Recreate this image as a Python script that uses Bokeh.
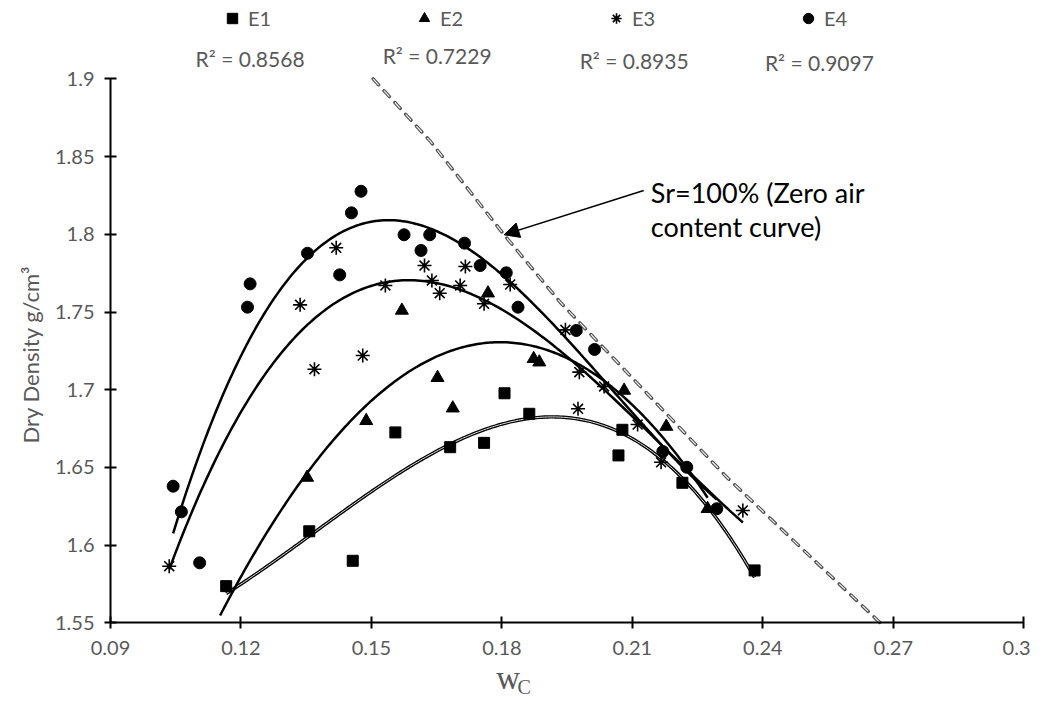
import numpy as np
from math import pi
from bokeh.plotting import figure
from bokeh.models import (Label, Arrow, NormalHead, FixedTicker, Range1d, Legend, LegendItem,
                          LinearAxis)
from bokeh.embed import file_html
from bokeh.resources import INLINE

# ---------------- data ----------------
series_names = ["E1", "E2", "E3", "E4"]

e1_w = [0.1166, 0.1357, 0.1457, 0.1555, 0.1681, 0.1759, 0.1806, 0.1863, 0.2068, 0.2077, 0.2215, 0.2381]
e1_rho = [1.5736, 1.6089, 1.5899, 1.6725, 1.6630, 1.6658, 1.6977, 1.6845, 1.6577, 1.6742, 1.6401, 1.5837]

e2_w = [0.1352, 0.1488, 0.1570, 0.1652, 0.1687, 0.1768, 0.1873, 0.1886, 0.2081, 0.2178, 0.2273]
e2_rho = [1.6435, 1.6800, 1.7510, 1.7077, 1.6881, 1.7621, 1.7199, 1.7177, 1.6995, 1.6763, 1.6234]

e3_w = [0.1035, 0.1336, 0.1369, 0.1419, 0.1480, 0.1532, 0.1622, 0.1639, 0.1657, 0.1704, 0.1716,
        0.1759, 0.1819, 0.1946, 0.1978, 0.1975, 0.2035, 0.2112, 0.2166, 0.2354]
e3_rho = [1.5864, 1.7546, 1.7132, 1.7913, 1.7220, 1.7671, 1.7799, 1.7703, 1.7621, 1.7671, 1.7793,
          1.7553, 1.7677, 1.7385, 1.7113, 1.6877, 1.7021, 1.6776, 1.6533, 1.6223]

e4_w = [0.1044, 0.1063, 0.1105, 0.1215, 0.1221, 0.1353, 0.1427, 0.1454, 0.1476, 0.1575, 0.1614,
        0.1634, 0.1714, 0.1750, 0.1810, 0.1837, 0.1971, 0.2013, 0.2170, 0.2225, 0.2294]
e4_rho = [1.6379, 1.6214, 1.5886, 1.7531, 1.7681, 1.7878, 1.7739, 1.8138, 1.8277, 1.7997, 1.7896,
          1.7997, 1.7943, 1.7799, 1.7752, 1.7531, 1.7381, 1.7259, 1.6602, 1.6501, 1.6234]

# backward forecast of each polynomial trendline (E2's trendline is extended back)
backward_forecast = [0.0, 0.02, 0.0, 0.0]

r2_labels = ["R\u00b2 = 0.8568", "R\u00b2 = 0.7229", "R\u00b2 = 0.8935", "R\u00b2 = 0.9097"]

# zero air content curve (Sr = 100%)
zav_w = [0.1504, 0.1635, 0.1805, 0.1934, 0.2317, 0.2539, 0.2670]
zav_rho = [1.9000, 1.8600, 1.7997, 1.7563, 1.6437, 1.5847, 1.5500]

x_ticks = [0.09, 0.12, 0.15, 0.18, 0.21, 0.24, 0.27, 0.3]
x_tick_labels = ["0.09", "0.12", "0.15", "0.18", "0.21", "0.24", "0.27", "0.3"]
y_ticks = [1.55, 1.6, 1.65, 1.7, 1.75, 1.8, 1.85, 1.9]
y_tick_labels = ["1.55", "1.6", "1.65", "1.7", "1.75", "1.8", "1.85", "1.9"]

annotation_lines = ["Sr=100% (Zero air", "content curve)"]
y_title = "Dry Density g/cm\u00b3"

# ---------------- figure ----------------
W, H = 1030, 701
X0, X1 = 0.09, 0.30
Y0, Y1 = 1.55, 1.90
PX_X = 4349.0   # px per unit w
PX_Y = 1554.0   # px per unit density
LEFT, TOP = 110.0, 78.4
x_range = Range1d(X0 - LEFT / PX_X, X0 + (W - LEFT) / PX_X)
y_range = Range1d(Y1 - (H - TOP) / PX_Y, Y1 + TOP / PX_Y)

p = figure(width=W, height=H, x_range=x_range, y_range=y_range,
           output_backend="svg", toolbar_location=None,
           x_axis_location=None, y_axis_location=None,
           min_border_left=0, min_border_right=0, min_border_top=0, min_border_bottom=0)
p.xgrid.grid_line_color = None
p.ygrid.grid_line_color = None
p.outline_line_color = None
p.background_fill_color = "white"
p.border_fill_color = "white"

xaxis = LinearAxis(fixed_location=Y0, bounds=(X0, X1), ticker=FixedTicker(ticks=x_ticks),
                   major_label_overrides=dict(zip(x_ticks, x_tick_labels)), major_label_standoff=12)
yaxis = LinearAxis(fixed_location=X0, bounds=(Y0, Y1), ticker=FixedTicker(ticks=y_ticks),
                   major_label_overrides=dict(zip(y_ticks, y_tick_labels)), major_label_standoff=10)
for ax in (xaxis, yaxis):
    ax.axis_line_color = "black"
    ax.axis_line_width = 2
    ax.major_tick_line_color = "black"
    ax.major_tick_line_width = 2
    ax.major_tick_in = 6
    ax.major_tick_out = 6
    ax.minor_tick_line_color = None
    ax.major_label_text_font = "Lato"
    ax.major_label_text_font_size = "20px"
    ax.major_label_text_color = "#595959"
p.add_layout(xaxis, "below")
p.add_layout(yaxis, "left")

# zero air content curve (dashed, hollow dashes)
p.line(zav_w, zav_rho, line_color="#505050", line_width=3.4, line_dash="8 8", line_cap="round")
p.line(zav_w, zav_rho, line_color="#f2f2f2", line_width=1.2, line_dash="8 8")

# polynomial trend lines (order 3), fitted from the series
def trend(w, rho, back=0.0, deg=3):
    w = np.asarray(w); rho = np.asarray(rho)
    c = np.polyfit(w, rho, deg)
    xs = np.linspace(w.min() - back, w.max(), 200)
    return xs, np.polyval(c, xs)

series = [(e1_w, e1_rho), (e2_w, e2_rho), (e3_w, e3_rho), (e4_w, e4_rho)]
for i, ((w, r), back) in enumerate(zip(series, backward_forecast)):
    xs, ys = trend(w, r, back)
    if i == 0:
        p.line(xs, ys, line_color="black", line_width=3.4)
        p.line(xs, ys, line_color="#dcdcdc", line_width=1.0)
    else:
        p.line(xs, ys, line_color="black", line_width=2.5)

r1_ = p.scatter(e1_w, e1_rho, marker="square", size=11, color="black")
r2_ = p.scatter(e2_w, e2_rho, marker="triangle", size=13, color="black")
r3_ = p.scatter(e3_w, e3_rho, marker="asterisk", size=14, line_color="black", line_width=1.6)
r4_ = p.scatter(e4_w, e4_rho, marker="circle", size=12, color="black")

legend = Legend(items=[LegendItem(label=n, renderers=[r]) for n, r in zip(series_names, [r1_, r2_, r3_, r4_])],
                orientation="horizontal", location=(219, 670), glyph_width=26, glyph_height=26,
                label_standoff=3, label_width=163, spacing=0, padding=0, margin=0,
                border_line_color=None, background_fill_alpha=0,
                label_text_font="Lato", label_text_font_size="20px", label_text_color="#595959")
p.add_layout(legend)

# R² labels
r2_pos_x = [0.1221, 0.1651, 0.2104, 0.2530]
r2_pos_y = [1.9131, 1.9151, 1.9118, 1.9106]
for t, x, y in zip(r2_labels, r2_pos_x, r2_pos_y):
    p.add_layout(Label(x=x, y=y, text=t, text_align="center", text_baseline="middle",
                       text_font="Lato", text_font_size="21px", text_color="#595959"))

# annotation + arrow
p.add_layout(Arrow(end=NormalHead(size=15, fill_color="black", line_color="black"),
                   x_start=0.2126, y_start=1.8282, x_end=0.1805, y_end=1.7997,
                   line_color="black", line_width=1.5))
p.add_layout(Label(x=0.21425, y=1.8272, text=annotation_lines[0], text_baseline="alphabetic",
                   text_font="Lato", text_font_size="27px", text_color="black"))
p.add_layout(Label(x=0.21425, y=1.8050, text=annotation_lines[1], text_baseline="alphabetic",
                   text_font="Lato", text_font_size="27px", text_color="black"))

# axis titles
p.add_layout(Label(x=0.0716, y=1.7227, text=y_title, angle=pi / 2, text_align="center",
                   text_baseline="middle", text_font="Lato", text_font_size="22px", text_color="#595959"))
p.add_layout(Label(x=0.1787, y=1.5142, text="w", text_baseline="alphabetic",
                   text_font="Liberation Serif", text_font_size="33px", text_color="#595959"))
p.add_layout(Label(x=0.1836, y=1.5085, text="C", text_baseline="alphabetic",
                   text_font="Liberation Serif", text_font_size="20px", text_color="#595959"))

open("out.html", "w").write(file_html(p, INLINE))
